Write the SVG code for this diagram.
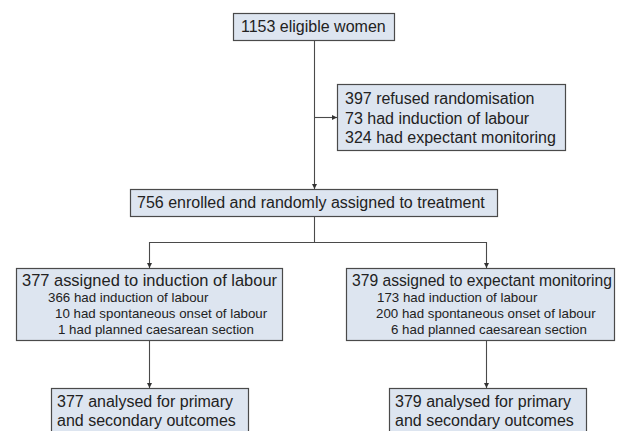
<svg xmlns="http://www.w3.org/2000/svg" width="626" height="431" viewBox="0 0 626 431">
<style>
.box{fill:#dde5f0;stroke:#4a4a4a;stroke-width:1.2}
.t{font-family:"Liberation Sans",Arial,sans-serif;font-size:16px;fill:#222}
.tt{font-family:"Liberation Sans",Arial,sans-serif;font-size:16.3px;fill:#222}
.s{font-family:"Liberation Sans",Arial,sans-serif;font-size:13.3px;fill:#222}
.c{fill:none;stroke:#4a4a4a;stroke-width:1.1}
</style>
<defs>
<marker id="ah" markerUnits="userSpaceOnUse" markerWidth="6" markerHeight="6" refX="5" refY="2.5" orient="auto">
<path d="M0,0 L5,2.5 L0,5 z" fill="#333"/>
</marker>
</defs>
<g id="connectors">
<path class="c" d="M314.5,40 V189" marker-end="url(#ah)"/>
<path class="c" d="M314.5,117.5 H337" marker-end="url(#ah)"/>
<path class="c" d="M314.5,216 V242.5 H149.5 V268" marker-end="url(#ah)"/>
<path class="c" d="M314.5,242.5 H486.5 V268" marker-end="url(#ah)"/>
<path class="c" d="M149.5,340 V388" marker-end="url(#ah)"/>
<path class="c" d="M486.5,340 V388" marker-end="url(#ah)"/>
</g>
<g id="eligible">
<rect class="box" x="233.5" y="13.5" width="161" height="27"/>
<text class="t" x="241" y="32">1153 eligible women</text>
</g>
<g id="refused">
<rect class="box" x="337.5" y="84.5" width="228" height="66"/>
<text class="t" x="345" y="104">397 refused randomisation</text>
<text class="t" x="345" y="124">73 had induction of labour</text>
<text class="t" x="345" y="143">324 had expectant monitoring</text>
</g>
<g id="enrolled">
<rect class="box" x="130.5" y="189.5" width="367" height="27"/>
<text class="t" x="137" y="208">756 enrolled and randomly assigned to treatment</text>
</g>
<g id="induction">
<rect class="box" x="16.5" y="268.5" width="266" height="72"/>
<text class="tt" x="22" y="286" textLength="255" lengthAdjust="spacingAndGlyphs">377 assigned to induction of labour</text>
<text class="s" x="48" y="302">366 had induction of labour</text>
<text class="s" x="55" y="318">10 had spontaneous onset of labour</text>
<text class="s" x="58" y="334">1 had planned caesarean section</text>
</g>
<g id="expectant">
<rect class="box" x="346.5" y="268.5" width="268" height="72"/>
<text class="tt" x="352" y="286" textLength="260" lengthAdjust="spacingAndGlyphs">379 assigned to expectant monitoring</text>
<text class="s" x="377" y="302">173 had induction of labour</text>
<text class="s" x="376" y="318">200 had spontaneous onset of labour</text>
<text class="s" x="391" y="334">6 had planned caesarean section</text>
</g>
<g id="analysed-induction">
<rect class="box" x="51.5" y="388.5" width="197" height="60"/>
<text class="t" x="57" y="407">377 analysed for primary</text>
<text class="t" x="57" y="426">and secondary outcomes</text>
</g>
<g id="analysed-expectant">
<rect class="box" x="389.5" y="388.5" width="197" height="60"/>
<text class="t" x="395" y="407">379 analysed for primary</text>
<text class="t" x="395" y="426">and secondary outcomes</text>
</g>
</svg>
